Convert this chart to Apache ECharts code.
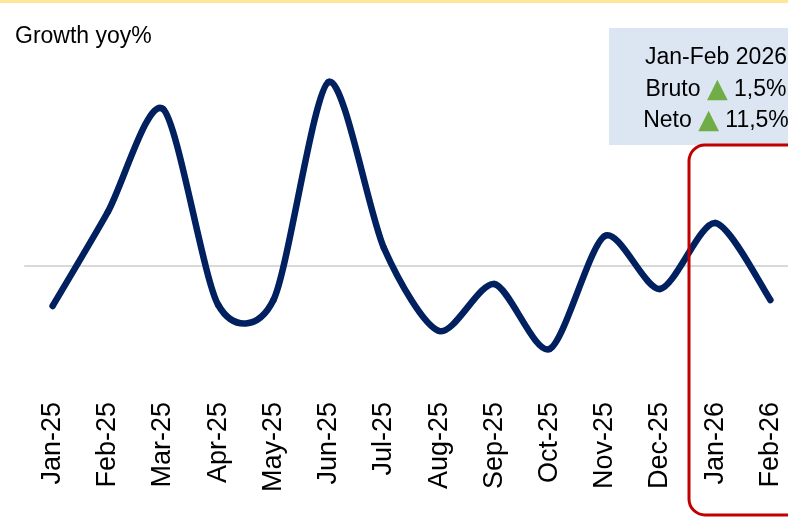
<!DOCTYPE html>
<html>
<head>
<meta charset="utf-8">
<title>Growth yoy%</title>
<script src="https://cdn.jsdelivr.net/npm/echarts@6/dist/echarts.min.js"></script>
<style>
  html, body { margin: 0; padding: 0; background: #fff; }
  #chart { width: 788px; height: 517px; }
</style>
</head>
<body>
<div id="chart"></div>
<script>
  var months = ['Jan-25', 'Feb-25', 'Mar-25', 'Apr-25', 'May-25', 'Jun-25', 'Jul-25',
    'Aug-25', 'Sep-25', 'Oct-25', 'Nov-25', 'Dec-25', 'Jan-26', 'Feb-26'];
  var growth = [-4.0, 5.4, 15.7, -3.9, -3.4, 18.4, 1.8, -6.5, -1.8, -8.3, 3.0, -2.3, 4.3, -3.4];
  var boxLines = ['Jan-Feb 2026', 'Bruto {t|▲} 1,5%', 'Neto {t|▲} 11,5%'];

  var font = '"Liberation Sans", Arial, sans-serif';
  var tension = 0.135; // excel-like spline
  var chart = echarts.init(document.getElementById('chart'));

  // one bezier piece per pair of months, control points from the neighbours
  function renderSegment(params, api) {
    var i = params.dataIndex;
    var n = growth.length;
    if (i >= n - 1) {
      return;
    }
    var pt = function (j) {
      j = Math.max(0, Math.min(n - 1, j));
      return api.coord([j, growth[j]]);
    };
    var p0 = pt(i - 1), p1 = pt(i), p2 = pt(i + 1), p3 = pt(i + 2);
    return {
      type: 'bezierCurve',
      shape: {
        x1: p1[0], y1: p1[1],
        x2: p2[0], y2: p2[1],
        cpx1: p1[0] + (p2[0] - p0[0]) * tension,
        cpy1: p1[1] + (p2[1] - p0[1]) * tension,
        cpx2: p2[0] - (p3[0] - p1[0]) * tension,
        cpy2: p2[1] - (p3[1] - p1[1]) * tension
      },
      style: {fill: 'none', stroke: '#002060', lineWidth: 6.5, lineCap: 'round'}
    };
  }

  var boxText = boxLines.map(function (line, i) {
    return {
      type: 'text',
      x: 716,
      y: 58 + i * 31.5,
      z: 50,
      style: {
        text: line,
        fill: '#000',
        fontSize: 23,
        fontFamily: font,
        textAlign: 'center',
        textVerticalAlign: 'middle',
        rich: {
          t: {fill: '#70AD47', fontSize: 27, fontFamily: 'DejaVu Sans'}
        }
      }
    };
  });

  chart.setOption({
    animation: false,
    grid: {
      left: 25,
      right: -10,
      top: 66,
      bottom: 131,
      outerBoundsMode: 'none'
    },
    xAxis: [
      {
        type: 'category',
        data: months,
        boundaryGap: true,
        axisLine: {show: false, onZero: false},
        axisTick: {show: false},
        axisLabel: {
          interval: 0,
          rotate: 90,
          margin: 16,
          fontSize: 27,
          color: '#000',
          fontFamily: font
        }
      },
      {
        type: 'category',
        data: months,
        position: 'bottom',
        axisLine: {show: true, onZero: true, lineStyle: {color: '#d9d9d9', width: 2}},
        axisTick: {show: false},
        axisLabel: {show: false}
      }
    ],
    yAxis: {
      type: 'value',
      min: -12,
      max: 20,
      show: false,
      splitLine: {show: false}
    },
    series: [
      {
        name: 'Growth yoy%',
        type: 'custom',
        renderItem: renderSegment,
        encode: {x: 0, y: 1},
        data: growth.map(function (v, i) { return [i, v]; })
      }
    ],
    graphic: [
      {type: 'rect', shape: {x: 0, y: 0, width: 788, height: 3}, style: {fill: '#FFE699'}},
      {
        type: 'text', x: 15, y: 37,
        style: {text: 'Growth yoy%', fill: '#000', fontSize: 23, fontFamily: font, textVerticalAlign: 'middle'}
      },
      {type: 'rect', z: 40, shape: {x: 609, y: 28, width: 200, height: 117}, style: {fill: '#DCE6F2'}}
    ].concat(boxText).concat([
      {
        type: 'rect', z: 100,
        shape: {x: 689, y: 145, width: 130, height: 370, r: 16},
        style: {fill: 'none', stroke: '#C00000', lineWidth: 3}
      }
    ])
  });
</script>
</body>
</html>
